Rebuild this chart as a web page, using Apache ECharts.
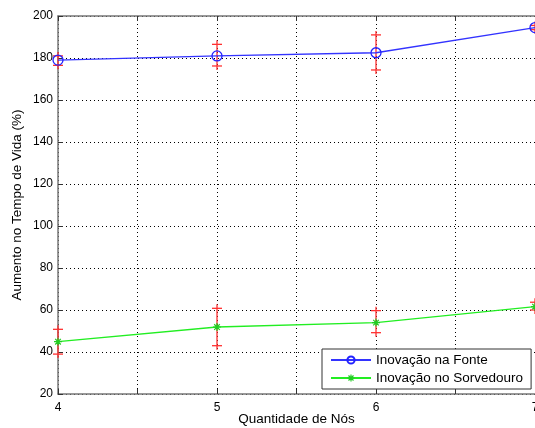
<!DOCTYPE html>
<html>
<head>
<meta charset="utf-8">
<script src="https://cdn.jsdelivr.net/npm/echarts@6/dist/echarts.min.js"></script>
<style>
html, body { margin: 0; padding: 0; background: #fff; }
#chart { width: 535px; height: 428px; }
</style>
</head>
<body>
<div id="chart"></div>
<script>
// dados
const nodes = [4, 5, 6, 7];
const fonte = [179, 181, 182.5, 194.5];
const fonteLow = [176.5, 176.2, 174.3, 193.5];
const fonteHigh = [181, 186.5, 191, 195.5];
const sorvedouro = [44.9, 51.9, 54, 61.6];
const sorvLow = [39, 43, 49.2, 60];
const sorvHigh = [50.8, 60.8, 59.7, 63.7];
const yTicks = [20, 40, 60, 80, 100, 120, 140, 160, 180, 200];

const font = 'Liberation Sans, Arial, sans-serif';
const gridDot = { color: '#000', width: 1, type: [1, 3] };
const axisGray = { color: '#777', width: 1.5 };

const starPath = 'path://M5,0 L5,10 M0,5 L10,5 M1.5,1.5 L8.5,8.5 M8.5,1.5 L1.5,8.5';
const starStyle = { color: 'rgba(0,0,0,0)', borderColor: '#22cc22', borderWidth: 1.2 };

function errData(low, high) {
    return nodes.map((x, i) => [x, low[i], high[i]]);
}

// barra de erro: linha vertical com '+' em cada ponta
function renderErr(params, api) {
    const x = api.value(0);
    const lo = api.coord([x, api.value(1)]);
    const hi = api.coord([x, api.value(2)]);
    const c = 5, s = 4;
    const st = { stroke: '#ff3030', lineWidth: 1.3 };
    return {
        type: 'group',
        children: [
            { type: 'line', shape: { x1: lo[0], y1: lo[1] + s, x2: hi[0], y2: hi[1] - s }, style: st },
            { type: 'line', shape: { x1: lo[0] - c, y1: lo[1], x2: lo[0] + c, y2: lo[1] }, style: st },
            { type: 'line', shape: { x1: hi[0] - c, y1: hi[1], x2: hi[0] + c, y2: hi[1] }, style: st }
        ]
    };
}

let chart = echarts.init(document.getElementById('chart'));
const option = {
    backgroundColor: '#fff',
    animation: false,
    grid: { left: 58, right: 0, top: 16, bottom: 34, outerBoundsMode: 'none', containLabel: false },
    legend: {
        left: 322, top: 349,
        orient: 'vertical',
        backgroundColor: '#fff',
        borderColor: '#333',
        borderWidth: 1,
        borderRadius: 0,
        padding: [4, 8, 4, 8],
        itemGap: 4,
        itemWidth: 40,
        itemHeight: 9,
        textStyle: { fontFamily: font, fontSize: 13.5, color: '#000' },
        data: [{
            name: 'Inovação na Fonte'
        }, {
            name: 'Inovação no Sorvedouro',
            itemStyle: starStyle
        }]
    },
    xAxis: [{
        type: 'value',
        min: 4, max: 7, interval: 0.5,
        name: 'Quantidade de Nós',
        nameLocation: 'middle',
        nameGap: 18,
        nameMoveOverlap: false,
        nameTextStyle: { fontFamily: font, fontSize: 13.5, color: '#000', verticalAlign: 'top' },
        axisLine: { lineStyle: axisGray },
        axisTick: { inside: true, length: 5, lineStyle: { color: '#333' } },
        axisLabel: {
            fontFamily: font, fontSize: 12, color: '#000', margin: 8,
            formatter: v => (Number.isInteger(v) ? String(v) : '')
        },
        splitLine: { show: true, lineStyle: gridDot }
    }, {
        type: 'value',
        position: 'top',
        min: 4, max: 7, interval: 0.5,
        axisLine: { show: true, lineStyle: axisGray },
        axisTick: { show: true, inside: true, length: 5, lineStyle: { color: '#333' } },
        axisLabel: { show: false },
        splitLine: { show: false }
    }],
    yAxis: {
        type: 'value',
        min: 20, max: 200, interval: 20,
        name: 'Aumento no Tempo de Vida (%)',
        nameLocation: 'middle',
        nameGap: 34,
        nameMoveOverlap: false,
        nameTextStyle: { fontFamily: font, fontSize: 13.5, color: '#000' },
        axisLine: { show: true, lineStyle: axisGray },
        axisTick: { show: true, inside: true, length: 5, lineStyle: { color: '#333' } },
        axisLabel: {
            fontFamily: font, fontSize: 12, color: '#000', margin: 5,
            formatter: v => (yTicks.includes(v) ? String(v) : '')
        },
        splitLine: { show: true, lineStyle: gridDot }
    },
    series: [{
        name: 'Inovação na Fonte',
        type: 'line',
        data: nodes.map((x, i) => [x, fonte[i]]),
        symbol: 'circle',
        symbolSize: 10,
        showAllSymbol: true,
        lineStyle: { color: '#3333ff', width: 1.3 },
        itemStyle: { color: 'rgba(0,0,0,0)', borderColor: '#2222ff', borderWidth: 1.3 },
        z: 3
    }, {
        name: 'Inovação no Sorvedouro',
        type: 'line',
        data: nodes.map((x, i) => [x, sorvedouro[i]]),
        symbol: starPath,
        symbolSize: 8,
        showAllSymbol: true,
        lineStyle: { color: '#22ee22', width: 1.3 },
        itemStyle: starStyle,
        z: 3
    }, {
        type: 'custom',
        renderItem: renderErr,
        data: errData(fonteLow, fonteHigh),
        encode: { x: 0, y: [1, 2] },
        z: 2
    }, {
        type: 'custom',
        renderItem: renderErr,
        data: errData(sorvLow, sorvHigh),
        encode: { x: 0, y: [1, 2] },
        z: 2
    }]
};
chart.setOption(option);
</script>
</body>
</html>
